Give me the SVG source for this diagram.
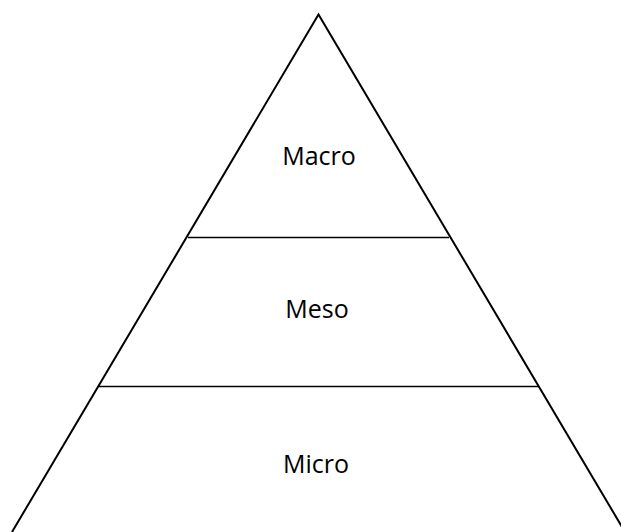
<svg xmlns="http://www.w3.org/2000/svg" width="621" height="532" viewBox="0 0 621 532">
<style>
.edge{fill:none;stroke:#000;stroke-width:2;stroke-linejoin:miter}
.div{stroke:#000;stroke-width:1.3}
.lbl{font-family:"Open Sans","Liberation Sans",sans-serif;font-size:25px;fill:#000;text-anchor:middle}
</style>
<rect width="621" height="532" fill="#fff"/>
<g id="connectors">
<polyline class="edge" points="12,532 318.5,14.5 625,532"/>
<line class="div" x1="188" y1="237.5" x2="449" y2="237.5"/>
<line class="div" x1="99" y1="386.5" x2="538" y2="386.5"/>
</g>
<g id="macro"><text class="lbl" x="319" y="165">Macro</text></g>
<g id="meso"><text class="lbl" x="317" y="318">Meso</text></g>
<g id="micro"><text class="lbl" x="316" y="473">Micro</text></g>
</svg>
